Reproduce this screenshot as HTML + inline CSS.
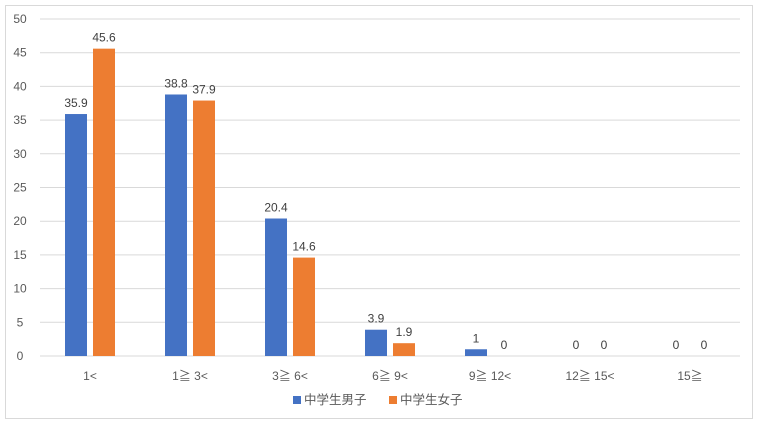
<!DOCTYPE html>
<html><head><meta charset="utf-8"><style>
body{margin:0;background:#fff;}
svg{display:block;font-family:"Liberation Sans","Noto Sans CJK JP",sans-serif;}
</style></head><body>
<svg id="c" width="759" height="427">
<rect x="5.5" y="5.5" width="747" height="413" fill="#fff" stroke="#d9d9d9"/>
<g id="grid"></g><g id="bars"></g><g id="labels"></g>
<g>
<rect x="293" y="396" width="8" height="8" fill="#4472c4"/>
<text x="304" y="404" font-size="12.5" fill="#595959">中学生男子</text>
<rect x="389" y="396" width="8" height="8" fill="#ed7d31"/>
<text x="400" y="404" font-size="12.5" fill="#595959">中学生女子</text>
</g>
</svg>
<script>
const categories=["1<","1≧ 3<","3≧ 6<","6≧ 9<","9≧ 12<","12≧ 15<","15≧"];
const boys=[35.9,38.8,20.4,3.9,1,0,0];
const girls=[45.6,37.9,14.6,1.9,0,0,0];
const ticks=[0,5,10,15,20,25,30,35,40,45,50];
const NS="http://www.w3.org/2000/svg";
const x0=40,x1=740,y0=356,y1=19,max=50;
const y=v=>y0-(y0-y1)*v/max;
const bw=(x1-x0)/categories.length;
const cx=i=>x0+bw*(i+0.5);
function mk(tag,attrs,parent,txt){const e=document.createElementNS(NS,tag);for(const k in attrs)e.setAttribute(k,attrs[k]);if(txt!==undefined)e.textContent=txt;document.getElementById(parent).appendChild(e);return e;}
ticks.forEach(t=>{
 const l=mk('line',{x1:x0,x2:x1,y1:y(t),y2:y(t),stroke:'#d9d9d9'},'grid');
 
 
 const tx=mk('text',{x:20,y:y(t)+4,'font-size':12,fill:'#595959','text-anchor':'middle'},'grid',t);
 
 
});
categories.forEach((c,i)=>{
 const t=mk('text',{x:cx(i),y:380,'font-size':12,fill:'#595959','text-anchor':'middle'},'labels',c);
 
 
 [[boys,'#4472c4',-25,'boys'],[girls,'#ed7d31',3,'girls']].forEach(([arr,col,off,nm])=>{
  const v=arr[i];
  const r=mk('rect',{x:cx(i)+off,y:y(v),width:22,height:y0-y(v),fill:col},'bars');
  
  
  const lb=mk('text',{x:cx(i)+off+11,y:y(v)-7,'font-size':12,fill:'#404040','text-anchor':'middle'},'labels',v);
  
  
 });
});
</script>
</body></html>
